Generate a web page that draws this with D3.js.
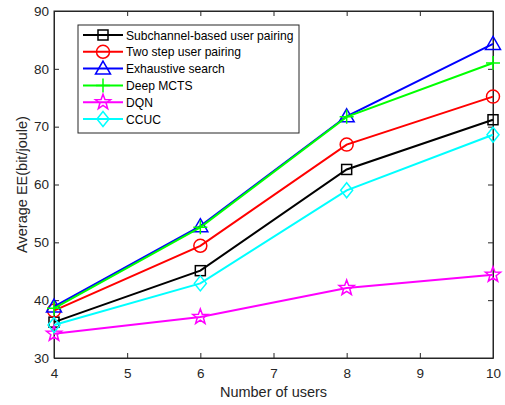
<!DOCTYPE html>
<html>
<head>
<meta charset="utf-8">
<script src="https://cdn.jsdelivr.net/npm/d3@7"></script>
<style>
  html, body { margin: 0; padding: 0; background: #fff; }
  svg { display: block; font-family: "Liberation Sans", Arial, sans-serif; }
</style>
</head>
<body>
<svg id="chart" width="505" height="405"></svg>
<script>
// Number of users on the x axis
const users = [4, 6, 8, 10];

// Average energy efficiency (bit/joule) per scheme
const subchannelPairing = [36.2, 45.1, 62.6, 71.2];
const twoStepPairing    = [38.2, 49.4, 66.9, 75.2];
const exhaustiveSearch  = [38.9, 52.8, 71.8, 84.3];
const deepMCTS          = [38.6, 52.6, 71.7, 81.0];
const dqn               = [34.2, 37.1, 42.1, 44.4];
const ccuc              = [35.7, 42.9, 59.0, 68.6];

const seriesNames = [
  "Subchannel-based user pairing",
  "Two step user pairing",
  "Exhaustive search",
  "Deep MCTS",
  "DQN",
  "CCUC"
];

const xTicks = [4, 5, 6, 7, 8, 9, 10];
const yTicks = [30, 40, 50, 60, 70, 80, 90];

const series = [
  { name: seriesNames[0], values: subchannelPairing, color: "#000000", marker: "square" },
  { name: seriesNames[1], values: twoStepPairing,    color: "#ff0000", marker: "circle" },
  { name: seriesNames[2], values: exhaustiveSearch,  color: "#0000ff", marker: "triangle" },
  { name: seriesNames[3], values: deepMCTS,          color: "#00ff00", marker: "plus" },
  { name: seriesNames[4], values: dqn,               color: "#ff00ff", marker: "star" },
  { name: seriesNames[5], values: ccuc,              color: "#00ffff", marker: "diamond" }
];

const svg = d3.select("#chart");
const margin = { left: 54, right: 12, top: 11, bottom: 47 };
const W = 505, H = 405;
const x0 = margin.left, x1 = W - margin.right;
const y0 = H - margin.bottom, y1 = margin.top;

const x = d3.scaleLinear().domain([4, 10]).range([x0, x1]);
const y = d3.scaleLinear().domain([30, 90]).range([y0, y1]);

const axisColor = "#262626";
const tickLen = 5;
const tickFont = 13.5;
const titleFont = 14.5;

// Plot box
svg.append("rect")
  .attr("x", x0).attr("y", y1)
  .attr("width", x1 - x0).attr("height", y0 - y1)
  .attr("fill", "none").attr("stroke", axisColor).attr("stroke-width", 1);

// Bottom axis (ticks drawn inward)
const xAxis = d3.axisBottom(x).tickValues(xTicks).tickFormat(d3.format("d"))
  .tickSizeInner(-tickLen).tickSizeOuter(0).tickPadding(10);
const gx = svg.append("g").attr("transform", `translate(0,${y0})`).call(xAxis);
gx.select(".domain").attr("stroke", axisColor);
gx.selectAll(".tick line").attr("stroke", axisColor);
gx.selectAll(".tick text").attr("fill", axisColor).attr("font-size", tickFont)
  .attr("font-family", "Liberation Sans, Arial, sans-serif");

// Top axis ticks
const gxt = svg.append("g").attr("transform", `translate(0,${y1})`)
  .call(d3.axisTop(x).tickValues(xTicks).tickFormat("").tickSizeInner(-tickLen).tickSizeOuter(0));
gxt.select(".domain").attr("stroke", axisColor);
gxt.selectAll(".tick line").attr("stroke", axisColor);

// Left axis
const yAxis = d3.axisLeft(y).tickValues(yTicks).tickFormat(d3.format("d"))
  .tickSizeInner(-tickLen).tickSizeOuter(0).tickPadding(5);
const gy = svg.append("g").attr("transform", `translate(${x0},0)`).call(yAxis);
gy.select(".domain").attr("stroke", axisColor);
gy.selectAll(".tick line").attr("stroke", axisColor);
gy.selectAll(".tick text").attr("fill", axisColor).attr("font-size", tickFont)
  .attr("font-family", "Liberation Sans, Arial, sans-serif");

// Right axis ticks
const gyr = svg.append("g").attr("transform", `translate(${x1},0)`)
  .call(d3.axisRight(y).tickValues(yTicks).tickFormat("").tickSizeInner(-tickLen).tickSizeOuter(0));
gyr.select(".domain").attr("stroke", axisColor);
gyr.selectAll(".tick line").attr("stroke", axisColor);

// Axis titles
svg.append("text")
  .attr("x", (x0 + x1) / 2).attr("y", 397)
  .attr("text-anchor", "middle").attr("font-size", titleFont).attr("fill", axisColor)
  .text("Number of users");
svg.append("text")
  .attr("transform", `translate(27,${(y0 + y1) / 2}) rotate(-90)`)
  .attr("text-anchor", "middle").attr("font-size", titleFont).attr("fill", axisColor)
  .text("Average EE(bit/joule)");

// Marker shapes
function drawMarker(g, type, color, cx, cy) {
  const sw = 1.5;
  switch (type) {
    case "square":
      g.append("rect").attr("x", cx - 5).attr("y", cy - 5).attr("width", 10).attr("height", 10)
        .attr("fill", "none").attr("stroke", color).attr("stroke-width", sw);
      break;
    case "circle":
      g.append("circle").attr("cx", cx).attr("cy", cy).attr("r", 6.5)
        .attr("fill", "none").attr("stroke", color).attr("stroke-width", sw);
      break;
    case "triangle":
      g.append("path").attr("d", `M${cx},${cy - 7.5}L${cx + 7.5},${cy + 5.5}L${cx - 7.5},${cy + 5.5}Z`)
        .attr("fill", "none").attr("stroke", color).attr("stroke-width", sw);
      break;
    case "plus":
      g.append("path").attr("d", `M${cx - 7},${cy}H${cx + 7}M${cx},${cy - 7}V${cy + 7}`)
        .attr("fill", "none").attr("stroke", color).attr("stroke-width", sw);
      break;
    case "diamond":
      g.append("path").attr("d", `M${cx},${cy - 7.5}L${cx + 6},${cy}L${cx},${cy + 7.5}L${cx - 6},${cy}Z`)
        .attr("fill", "none").attr("stroke", color).attr("stroke-width", sw);
      break;
    case "star": {
      const pts = [];
      for (let i = 0; i < 10; i++) {
        const r = i % 2 === 0 ? 8 : 3.3;
        const a = -Math.PI / 2 + i * Math.PI / 5;
        pts.push([cx + r * Math.cos(a), cy + r * Math.sin(a)]);
      }
      g.append("path").attr("d", "M" + pts.map(p => p.join(",")).join("L") + "Z")
        .attr("fill", "none").attr("stroke", color).attr("stroke-width", sw);
      break;
    }
  }
}

// Series lines and markers
const line = d3.line().x((d, i) => x(users[i])).y(d => y(d));
series.forEach(s => {
  const g = svg.append("g");
  g.append("path").attr("d", line(s.values))
    .attr("fill", "none").attr("stroke", s.color).attr("stroke-width", 2);
  s.values.forEach((v, i) => drawMarker(g, s.marker, s.color, x(users[i]), y(v)));
});

// Legend
const lg = svg.append("g");
const lx = 78, ly = 25, lw = 221, rowH = 16.8;
lg.append("rect").attr("x", lx).attr("y", ly).attr("width", lw).attr("height", 108)
  .attr("fill", "#fff").attr("stroke", axisColor).attr("stroke-width", 1);
series.forEach((s, i) => {
  const cy = ly + 10 + i * rowH;
  lg.append("line").attr("x1", lx + 5).attr("x2", lx + 45).attr("y1", cy).attr("y2", cy)
    .attr("stroke", s.color).attr("stroke-width", 2);
  drawMarker(lg, s.marker, s.color, lx + 25, cy);
  lg.append("text").attr("x", lx + 48).attr("y", cy + 4.5)
    .attr("font-size", 12.1).attr("fill", "#000").text(s.name);
});
</script>
</body>
</html>
